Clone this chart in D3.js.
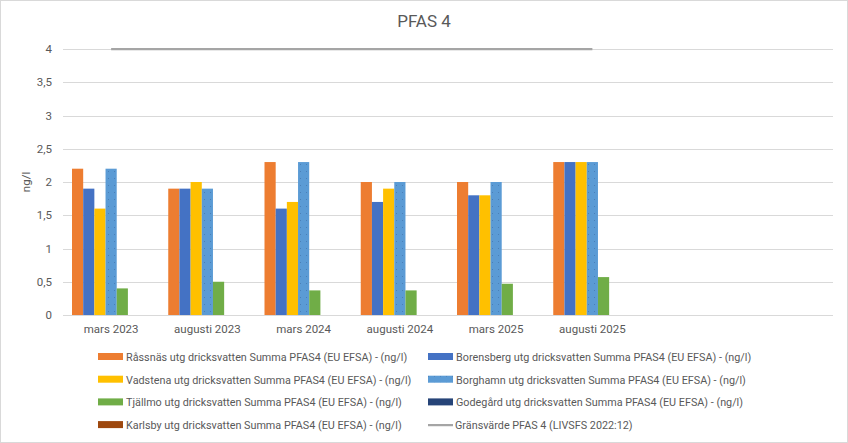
<!DOCTYPE html>
<html>
<head>
<meta charset="utf-8">
<script src="https://cdn.jsdelivr.net/npm/d3@7"></script>
<style>
  body { margin: 0; background: #fff; }
  text { font-family: "Liberation Sans Narrow", "Roboto", sans-serif; fill: #595959; }
</style>
</head>
<body>
<script>
// data
var categories = ['mars 2023', 'augusti 2023', 'mars 2024', 'augusti 2024', 'mars 2025', 'augusti 2025', '', ' '];
var seriesNames = [
  'Råssnäs utg dricksvatten Summa PFAS4 (EU EFSA) - (ng/l)',
  'Borensberg utg dricksvatten Summa PFAS4 (EU EFSA) - (ng/l)',
  'Vadstena utg dricksvatten Summa PFAS4 (EU EFSA) - (ng/l)',
  'Borghamn utg dricksvatten Summa PFAS4 (EU EFSA) - (ng/l)',
  'Tjällmo utg dricksvatten Summa PFAS4 (EU EFSA) - (ng/l)',
  'Godegård utg dricksvatten Summa PFAS4 (EU EFSA) - (ng/l)',
  'Karlsby utg dricksvatten Summa PFAS4 (EU EFSA) - (ng/l)'
];
var colors = ['#ED7D31', '#4472C4', '#FFC000', '#5B9BD5', '#70AD47', '#264478', '#9E480E'];
var rassnas    = [2.2, 1.9, 2.3, 2.0, 2.0, 2.3];
var borensberg = [1.9, 1.9, 1.6, 1.7, 1.8, 2.3];
var vadstena   = [1.6, 2.0, 1.7, 1.9, 1.8, 2.3];
var borghamn   = [2.2, 1.9, 2.3, 2.0, 2.0, 2.3];
var tjallmo    = [0.4, 0.5, 0.37, 0.37, 0.47, 0.57];
var godegard   = [null, null, null, null, null, null];
var karlsby    = [null, null, null, null, null, null];
var limitName = 'Gränsvärde PFAS 4 (LIVSFS 2022:12)';
var limitValues = [4, 4, 4, 4, 4, 4];
var yTicks = [0, 0.5, 1, 1.5, 2, 2.5, 3, 3.5, 4];

var allSeries = [rassnas, borensberg, vadstena, borghamn, tjallmo, godegard, karlsby];

var W = 848, H = 443;
var margin = { left: 63, right: 15, top: 49, bottom: 128 };

var svg = d3.select('body').append('svg')
  .attr('width', W)
  .attr('height', H);

svg.append('rect')
  .attr('x', 0.5).attr('y', 0.5)
  .attr('width', W - 1).attr('height', H - 1)
  .attr('fill', '#fff').attr('stroke', '#d9d9d9');

// dotted pattern for Borghamn
var defs = svg.append('defs');
var pat = defs.append('pattern')
  .attr('id', 'dots')
  .attr('patternUnits', 'userSpaceOnUse')
  .attr('width', 6).attr('height', 7);
pat.append('rect').attr('width', 6).attr('height', 7).attr('fill', colors[3]);
pat.append('rect').attr('x', 0).attr('y', 3).attr('width', 1).attr('height', 1).attr('fill', '#4a7fb8');

var xScale = d3.scaleBand()
  .domain(categories)
  .range([margin.left, W - margin.right]);

var inner = d3.scaleBand()
  .domain(d3.range(allSeries.length))
  .range([9, xScale.bandwidth() - 9]);

var yScale = d3.scaleLinear()
  .domain([0, 4])
  .range([315, 49]);

// gridlines
svg.append('g')
  .selectAll('line')
  .data(yTicks)
  .enter()
  .append('line')
  .attr('x1', margin.left)
  .attr('x2', W - margin.right)
  .attr('y1', d => Math.round(yScale(d)) + 0.5)
  .attr('y2', d => Math.round(yScale(d)) + 0.5)
  .attr('stroke', '#d9d9d9')
  .attr('stroke-width', 1);

// y labels
var fmt = d => String(d).replace('.', ',');
svg.append('g')
  .selectAll('text')
  .data(yTicks)
  .enter()
  .append('text')
  .attr('x', 52)
  .attr('y', d => yScale(d) + 4)
  .attr('text-anchor', 'end')
  .attr('font-size', 11.5)
  .text(fmt);

svg.append('text')
  .attr('transform', 'translate(30, 182) rotate(-90)')
  .attr('text-anchor', 'middle')
  .attr('font-size', 11.5)
  .text('ng/l');

// bars
allSeries.forEach(function (vals, s) {
  svg.append('g')
    .selectAll('rect')
    .data(vals.filter(v => v !== null).map((v, i) => ({ v: v, i: i })))
    .enter()
    .append('rect')
    .attr('x', d => xScale(categories[d.i]) + inner(s))
    .attr('y', d => yScale(d.v))
    .attr('width', inner.bandwidth())
    .attr('height', d => yScale(0) - yScale(d.v))
    .attr('fill', s === 3 ? 'url(#dots)' : colors[s]);
});

// limit line
var line = d3.line()
  .x((d, i) => xScale(categories[i]) + xScale.bandwidth() / 2)
  .y(d => yScale(d));
svg.append('path')
  .datum(limitValues)
  .attr('d', line)
  .attr('fill', 'none')
  .attr('stroke', '#A5A5A5')
  .attr('stroke-width', 2.25);

// x labels
svg.append('g')
  .selectAll('text')
  .data(categories)
  .enter()
  .append('text')
  .attr('x', d => xScale(d) + xScale.bandwidth() / 2)
  .attr('y', 333)
  .attr('text-anchor', 'middle')
  .attr('font-size', 11.5)
  .text(d => d.trim());

// title
svg.append('text')
  .attr('x', 424)
  .attr('y', 27)
  .attr('text-anchor', 'middle')
  .attr('font-size', 17)
  .text('PFAS 4');

// legend
var legendItems = seriesNames.map((n, i) => ({ name: n, color: colors[i], type: 'bar', idx: i }));
legendItems.push({ name: limitName, color: '#A5A5A5', type: 'line' });

var lg = svg.append('g')
  .selectAll('g')
  .data(legendItems)
  .enter()
  .append('g')
  .attr('transform', (d, i) => 'translate(' + (i % 2 === 0 ? 98 : 428) + ',' + (357 + Math.floor(i / 2) * 22.7) + ')');

lg.filter(d => d.type === 'bar').append('rect')
  .attr('x', 0).attr('y', -4)
  .attr('width', 25).attr('height', 7)
  .attr('fill', d => d.idx === 3 ? 'url(#dots)' : d.color);

lg.filter(d => d.type === 'line').append('line')
  .attr('x1', 0).attr('x2', 25)
  .attr('y1', 0).attr('y2', 0)
  .attr('stroke', d => d.color)
  .attr('stroke-width', 2.25);

lg.append('text')
  .attr('x', d => d.type === 'line' ? 27 : 28)
  .attr('y', 4)
  .attr('font-size', 10.8)
  .text(d => d.name);
</script>
</body>
</html>
